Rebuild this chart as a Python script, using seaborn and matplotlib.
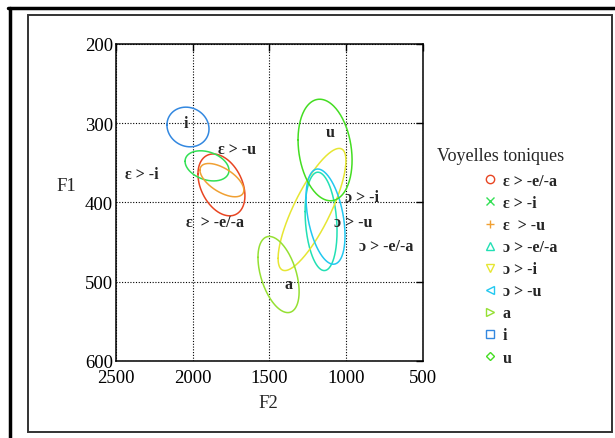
import numpy as np
import pandas as pd
import matplotlib.pyplot as plt
import seaborn as sns
from matplotlib.lines import Line2D
from matplotlib.patches import Rectangle

# ==========================
# Data (F2 / F1 dispersion ellipses, Hz)
# ==========================
labels = ["ε > -e/-a", "ε > -i", "ε  > -u", "ɔ > -e/-a", "ɔ > -i", "ɔ > -u", "a", "i", "u"]
center_f2 = [1813, 1907, 1810, 1164, 1223, 1135, 1441, 2031, 1138]
center_f1 = [378, 354, 372, 424, 409, 418, 491, 305, 334]
spread_f2 = [153, 143, 143, 104, 221, 127, 134, 137, 176]
spread_f1 = [39, 19, 21, 62, 77, 60, 48, 25, 64]
corr = [-0.35, -0.3, -0.6, -0.2, 0.8, -0.4, -0.45, -0.1, -0.2]

colors = ["#e84522", "#33e055", "#f0a033", "#22e0b4", "#e6e633",
          "#22c8f0", "#95e033", "#3388e0", "#44dd22"]
markers = ["o", "x", "+", "^", "v", "<", ">", "s", "D"]
marker_sizes = [6, 6, 6, 6, 6, 6, 6, 6, 4.5]

# in-plot labels (text, F2, F1)
note_text = ["i", "ε > -u", "ε > -i", "ε  > -e/-a", "u", "ɔ > -i", "ɔ > -u", "ɔ > -e/-a", "a"]
note_f2 = [2044, 1712, 2331, 1855, 1106, 897, 956, 741, 1379]
note_f1 = [300, 333, 364, 425, 311, 393, 425, 455, 503]

f2_ticks = [2500, 2000, 1500, 1000, 500]
f1_ticks = [200, 300, 400, 500, 600]

# ==========================
# Style
# ==========================
sns.set_theme(style="white")
plt.rcParams["font.family"] = ["Liberation Serif", "DejaVu Serif"]

fig = plt.figure(figsize=(6.15, 4.39), dpi=100)
ax = fig.add_axes([0.1886, 0.1754, 0.4992, 0.7228])

# ==========================
# Ellipses
# ==========================
t = np.linspace(0, 2 * np.pi, 200)
for i, lab in enumerate(labels):
    r = corr[i]
    df = pd.DataFrame({
        "F2": center_f2[i] + spread_f2[i] * np.cos(t),
        "F1": center_f1[i] + spread_f1[i] * (r * np.cos(t) + np.sqrt(1 - r ** 2) * np.sin(t)),
    })
    sns.lineplot(data=df, x="F2", y="F1", sort=False, estimator=None,
                 color=colors[i], linewidth=1.1, ax=ax)

for txt, x, y in zip(note_text, note_f2, note_f1):
    ax.text(x, y, txt, fontsize=11.5, fontweight="bold", ha="center", va="center")

# ==========================
# Axes
# ==========================
ax.set_xlim(2500, 500)
ax.set_ylim(600, 200)
ax.set_xticks(f2_ticks)
ax.set_yticks(f1_ticks)
ax.tick_params(axis="both", direction="in", length=5, width=1, labelsize=13.5,
               top=True, right=True, pad=2, colors="black")
ax.tick_params(axis="x", pad=6)
ax.grid(True, linestyle=(0, (1, 1.5)), color="black", linewidth=0.8)
for s in ax.spines.values():
    s.set_color("black")
    s.set_linewidth(1.1)
ax.set_xlabel("")
ax.set_ylabel("")
fig.text(66 / 615, 1 - 187 / 439, "F1", fontsize=13.5, ha="center", va="center")
fig.text(268 / 615, 1 - 404 / 439, "F2", fontsize=13.5, ha="center", va="center")

# ==========================
# Legend
# ==========================
handles = [Line2D([], [], linestyle="none", marker=m, color=c, markersize=ms,
                  markerfacecolor="none", markeredgewidth=1)
           for m, c, ms in zip(markers, colors, marker_sizes)]
leg = fig.legend(handles, labels, loc="upper left", bbox_to_anchor=(482 / 615, 1 - 174 / 439),
                 frameon=False, prop={"size": 11.5, "weight": "bold"},
                 handletextpad=0.3, handlelength=1.0, labelspacing=0.38,
                 borderaxespad=0, borderpad=0)
fig.text(437 / 615, 1 - 157 / 439, "Voyelles toniques", fontsize=13, ha="left", va="center")

# ==========================
# Page frame
# ==========================
fig.add_artist(Rectangle((28 / 615, 1 - 433 / 439), 584 / 615, 417 / 439,
                         transform=fig.transFigure, fill=False,
                         edgecolor="#333333", linewidth=1.4))
fig.add_artist(Line2D([8 / 615, 1], [1 - 8.5 / 439, 1 - 8.5 / 439],
                      transform=fig.transFigure, color="black", linewidth=2.5))
fig.add_artist(Line2D([9.5 / 615, 9.5 / 615], [0, 1 - 8.5 / 439],
                      transform=fig.transFigure, color="black", linewidth=2.5))

fig.savefig("out.png", dpi=100)
